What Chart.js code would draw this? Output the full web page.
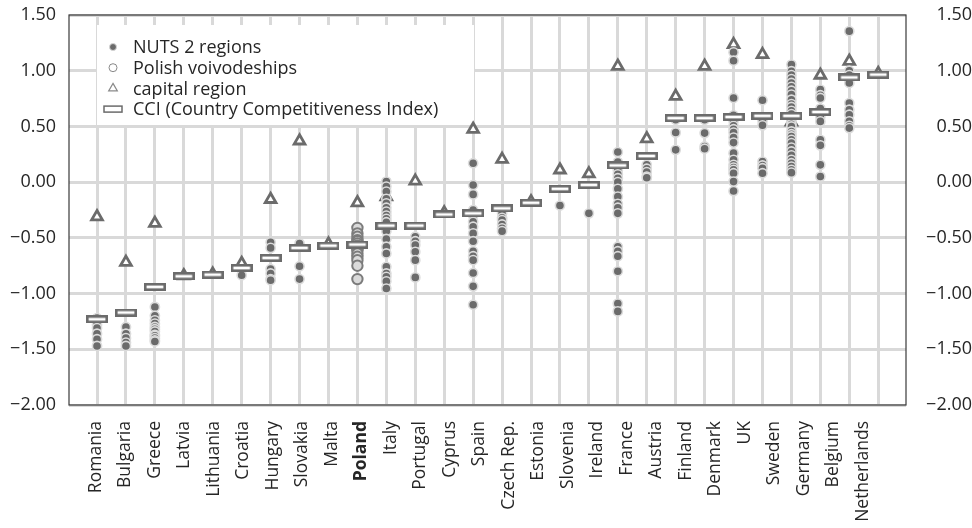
<!DOCTYPE html>
<html>
<head>
<meta charset="utf-8">
<script src="https://cdn.jsdelivr.net/npm/chart.js@4.4.1/dist/chart.umd.min.js"></script>
<style>
  body { margin: 0; background: #fff; }
</style>
</head>
<body>
<canvas id="myChart" width="972" height="528"></canvas>
<script>
// labels under the axis (27 names, spread a bit wider than the 28 data columns)
const tickLabels = [
  "Romania", "Bulgaria", "Greece", "Latvia", "Lithuania", "Croatia", "Hungary",
  "Slovakia", "Malta", "Poland", "Italy", "Portugal", "Cyprus", "Spain",
  "Czech Rep.", "Estonia", "Slovenia", "Ireland", "France", "Austria", "Finland",
  "Denmark", "UK", "Sweden", "Germany", "Belgium", "Netherlands",
];
const yTicks = [-2, -1.5, -1, -0.5, 0, 0.5, 1, 1.5];

// one entry per data column (0..27)
const cci = [
  -1.23, -1.17, -0.94, -0.845, -0.83, -0.77, -0.68, -0.59, -0.57, -0.56,
  -0.39, -0.39, -0.29, -0.28, -0.235, -0.185, -0.06, -0.025, 0.15, 0.235,
  0.575, 0.575, 0.585, 0.595, 0.595, 0.63, 0.94, 0.965,
];
const capital = [
  -0.31, -0.72, -0.37, -0.84, -0.825, -0.73, -0.155, 0.37, -0.555, -0.185,
  -0.13, 0.01, -0.275, 0.475, 0.205, -0.175, 0.11, 0.075, 1.04, 0.39,
  0.77, 1.04, 1.235, 1.145, 0.54, 0.96, 1.085, 0.975,
];
const nuts2 = [
  [-1.22, -1.25, -1.28, -1.31, -1.36, -1.41, -1.47],
  [-1.30, -1.36, -1.40, -1.44, -1.47],
  [-1.12, -1.20, -1.24, -1.27, -1.30, -1.32, -1.34, -1.37, -1.38, -1.40, -1.42, -1.43],
  [],
  [],
  [-0.835],
  [-0.54, -0.59, -0.78, -0.82, -0.87, -0.88],
  [-0.55, -0.755, -0.87],
  [],
  [],
  [0.005, -0.04, -0.085, -0.15, -0.19, -0.23, -0.265, -0.30, -0.33, -0.36, -0.44, -0.51, -0.58, -0.64, -0.76, -0.82, -0.85, -0.89, -0.955],
  [-0.49, -0.53, -0.565, -0.625, -0.70, -0.855],
  [],
  [0.17, -0.025, -0.11, -0.25, -0.30, -0.355, -0.40, -0.46, -0.53, -0.62, -0.665, -0.70, -0.815, -0.935, -1.10],
  [-0.26, -0.28, -0.32, -0.34, -0.38, -0.415, -0.44],
  [],
  [-0.21],
  [-0.28],
  [0.27, 0.18, 0.13, 0.11, 0.07, 0.035, 0.0, -0.06, -0.13, -0.195, -0.23, -0.28, -0.58, -0.62, -0.665, -0.80, -1.09, -1.16],
  [0.155, 0.12, 0.09, 0.05, 0.04],
  [0.56, 0.445, 0.29],
  [0.56, 0.44, 0.32, 0.30],
  [1.165, 1.09, 0.755, 0.60, 0.55, 0.505, 0.475, 0.445, 0.40, 0.355, 0.26, 0.20, 0.155, 0.13, 0.11, 0.08, 0.005, -0.08],
  [0.735, 0.55, 0.51, 0.185, 0.15, 0.125, 0.08],
  [1.055, 0.995, 0.96, 0.925, 0.89, 0.855, 0.82, 0.785, 0.74, 0.70, 0.675, 0.64, 0.61, 0.57, 0.55, 0.52, 0.50, 0.455, 0.43, 0.41, 0.38, 0.35, 0.31, 0.275, 0.24, 0.20, 0.17, 0.14, 0.11, 0.085],
  [0.83, 0.78, 0.755, 0.66, 0.59, 0.545, 0.38, 0.33, 0.155, 0.05],
  [1.355, 1.0, 0.96, 0.89, 0.71, 0.65, 0.605, 0.545, 0.505, 0.485],
  [],
];
const polandColumn = 9;
const polish = [-0.41, -0.46, -0.49, -0.52, -0.53, -0.55, -0.57, -0.58, -0.60, -0.61, -0.64, -0.67, -0.70, -0.75, -0.87];

const FONT = "'Open Sans', sans-serif";
const GREY = "#6b6b6b";
Chart.defaults.font.family = FONT;
Chart.defaults.font.size = 18;
Chart.defaults.color = "#262626";

// CCI marker: hollow flat bar
const cciMark = document.createElement("canvas");
cciMark.width = 22;
cciMark.height = 8;
const m = cciMark.getContext("2d");
m.fillStyle = "#fff";
m.fillRect(0, 0, 22, 8);
m.strokeStyle = GREY;
m.lineWidth = 2.6;
m.strokeRect(1.3, 1.3, 19.4, 5.4);

const cols = cci.map((_, i) => i);
const fmt = (v) => (v < 0 ? "\u2212" : "") + Math.abs(v).toFixed(2);

const nutsPts = nuts2.flatMap((vals, i) => vals.map((v) => ({ x: i, y: v })));
const polishPts = polish.map((v) => ({ x: polandColumn, y: v }));
const capitalPts = capital.map((v, i) => ({ x: i, y: v }));
const cciPts = cci.map((v, i) => ({ x: i, y: v }));

const legendItems = [
  { text: "NUTS 2 regions", style: "circle", r: 3.5, fill: GREY, stroke: "#d6d6d6", bw: 1 },
  { text: "Polish voivodeships", style: "circle", r: 4, fill: "#fff", stroke: "#8a8a8a", bw: 1 },
  { text: "capital region", style: "triangle", r: 5, fill: "#fff", stroke: "#8a8a8a", bw: 1.2 },
  { text: "CCI (Country Competitiveness Index)", style: "bar" },
];

const frameAndLegend = {
  id: "frameAndLegend",
  beforeDatasetsDraw(chart) {
    const { ctx, chartArea: a } = chart;
    ctx.save();
    ctx.strokeStyle = "#3a3a3a";
    ctx.lineWidth = 1.2;
    ctx.strokeRect(a.left, a.top, a.right - a.left, a.bottom - a.top);

    const bx = a.left + 28, by = a.top + 10;
    ctx.fillStyle = "#fff";
    ctx.fillRect(bx, by, 377, 100);
    ctx.font = "18px " + FONT;
    ctx.textBaseline = "middle";
    legendItems.forEach((it, k) => {
      const y = by + 22 + k * 20.7;
      const x = bx + 16;
      if (it.style === "bar") {
        ctx.strokeStyle = GREY;
        ctx.lineWidth = 1.5;
        ctx.strokeRect(x - 9, y - 3, 18, 6);
      } else {
        ctx.fillStyle = it.fill;
        ctx.strokeStyle = it.stroke;
        ctx.lineWidth = it.bw;
        Chart.helpers.drawPoint(ctx, { pointStyle: it.style, radius: it.r, rotation: 0, borderWidth: it.bw }, x, y);
      }
      ctx.fillStyle = "#262626";
      ctx.fillText(it.text, bx + 36, y + 1);
    });
    ctx.restore();
  },
};

const noPad = (s) => { s.paddingTop = 0; s.paddingBottom = 0; };

const ctx = document.getElementById("myChart");
const myChart = new Chart(ctx, {
  type: "scatter",
  data: {
    datasets: [
      {
        label: "NUTS 2 regions",
        data: nutsPts,
        pointStyle: "circle",
        pointRadius: 4.6,
        backgroundColor: GREY,
        borderColor: "#dcdcdc",
        borderWidth: 1.6,
        order: 2,
      },
      {
        label: "Polish voivodeships",
        data: polishPts,
        pointStyle: "circle",
        pointRadius: 5.2,
        backgroundColor: "#dadada",
        borderColor: "#7c7c7c",
        borderWidth: 2,
        order: 1,
      },
      {
        label: "capital region",
        data: capitalPts,
        pointStyle: "triangle",
        pointRadius: 6.2,
        backgroundColor: "#fff",
        borderColor: GREY,
        borderWidth: 2.8,
        order: 3,
      },
      {
        label: "CCI (Country Competitiveness Index)",
        data: cciPts,
        pointStyle: cciMark,
        pointRadius: 6,
        order: 0,
      },
    ],
  },
  options: {
    responsive: false,
    animation: false,
    layout: { padding: { top: 15, left: 0, right: 0, bottom: 0 } },
    plugins: { legend: { display: false }, tooltip: { enabled: false } },
    scales: {
      x: {
        type: "linear",
        position: "bottom",
        min: -0.968,
        max: 27.96,
        afterBuildTicks: (axis) => { axis.ticks = cols.map((i) => ({ value: i })); },
        ticks: { display: false },
        grid: { color: "#d9d9d9", lineWidth: 3, drawTicks: false },
        border: { display: false },
        afterFit: (s) => { s.height = 0; },
      },
      names: {
        type: "linear",
        position: "bottom",
        min: -0.915,
        max: 27.458,
        afterBuildTicks: (axis) => { axis.ticks = tickLabels.map((_, i) => ({ value: i })); },
        grid: { display: false, drawTicks: false },
        border: { display: false },
        ticks: {
          autoSkip: false,
          minRotation: 90,
          maxRotation: 90,
          padding: 16,
          callback: (v, i) => tickLabels[i],
          font: (c) => ({
            family: FONT,
            size: 17.5,
            weight: c.tick && c.tick.label === "Poland" ? "bold" : "normal",
          }),
        },
        afterFit: (s) => { s.height = 123; },
      },
      y: {
        position: "left",
        min: -2,
        max: 1.5,
        afterBuildTicks: (axis) => { axis.ticks = yTicks.map((v) => ({ value: v })); },
        ticks: { padding: 13, callback: (v) => fmt(v) },
        grid: { color: "#d9d9d9", lineWidth: 3, drawTicks: false },
        border: { display: false },
        afterFit: (s) => { s.width = 69; noPad(s); },
      },
      y1: {
        position: "right",
        min: -2,
        max: 1.5,
        afterBuildTicks: (axis) => { axis.ticks = yTicks.map((v) => ({ value: v })); },
        ticks: { padding: 8, crossAlign: "far", callback: (v) => fmt(v) },
        grid: { display: false, drawTicks: false },
        border: { display: false },
        afterFit: (s) => { s.width = 66; noPad(s); },
      },
    },
  },
  plugins: [frameAndLegend],
});
</script>
</body>
</html>
